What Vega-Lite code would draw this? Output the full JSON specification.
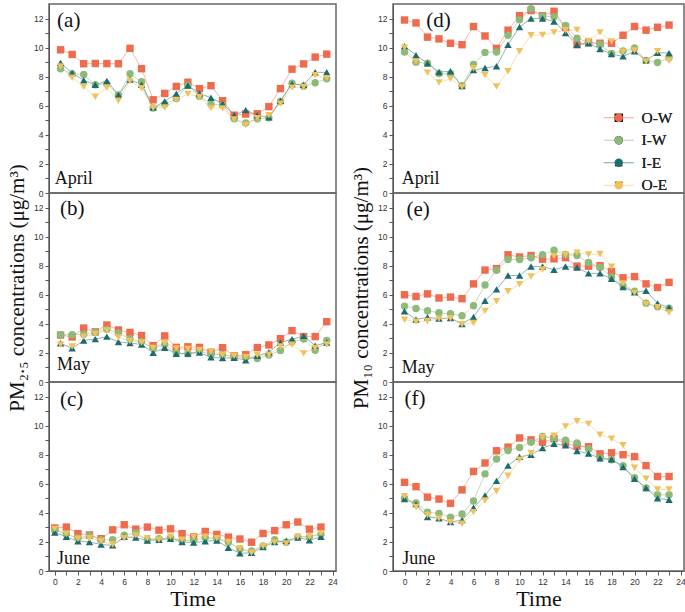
{
"$schema": "https://vega.github.io/schema/vega-lite/v6.json",
"padding": {"left": 5, "top": 3, "right": 2, "bottom": 2},
"config": {"view": {"stroke": "#666", "strokeWidth": 1.5}, "style": {"cell": {"stroke": "#666", "strokeWidth": 1.5}}, "font": "Liberation Serif, serif",
  "axis": {"grid": false, "labelFont": "Liberation Sans, sans-serif", "labelFontSize": 8.5, "labelColor": "#333", "labelPadding": 2, "domainColor": "#555", "tickColor": "#555", "tickSize": 4, "labelOverlap": false, "titleFont": "Liberation Serif, serif", "titleFontWeight": "normal", "titleColor": "#111"},
  "legend": {"title": null, "orient": "none", "legendX": 562, "legendY": 106, "padding": 0, "labelFont": "Liberation Serif, serif", "labelFontSize": 15.5, "labelFontWeight": "normal", "labelColor": "#222", "symbolSize": 70, "labelOffset": 15, "rowPadding": 5.5},
  "text": {"font": "Liberation Serif, serif", "color": "#111", "align": "left"}},
"datasets": {"pm": [
{"p":"a","s":"O-W","t":0,"v":9.85},{"p":"a","s":"O-W","t":1,"v":9.53},{"p":"a","s":"O-W","t":2,"v":8.89},{"p":"a","s":"O-W","t":3,"v":8.91},{"p":"a","s":"O-W","t":4,"v":8.9},{"p":"a","s":"O-W","t":5,"v":8.89},{"p":"a","s":"O-W","t":6,"v":9.95},{"p":"a","s":"O-W","t":7,"v":8.55},{"p":"a","s":"O-W","t":8,"v":6.41},{"p":"a","s":"O-W","t":9,"v":6.85},{"p":"a","s":"O-W","t":10,"v":7.33},{"p":"a","s":"O-W","t":11,"v":7.62},{"p":"a","s":"O-W","t":12,"v":7.18},{"p":"a","s":"O-W","t":13,"v":7.38},{"p":"a","s":"O-W","t":14,"v":6.35},{"p":"a","s":"O-W","t":15,"v":5.35},{"p":"a","s":"O-W","t":16,"v":5.43},{"p":"a","s":"O-W","t":17,"v":5.45},{"p":"a","s":"O-W","t":18,"v":5.94},{"p":"a","s":"O-W","t":19,"v":7.18},{"p":"a","s":"O-W","t":20,"v":8.52},{"p":"a","s":"O-W","t":21,"v":8.88},{"p":"a","s":"O-W","t":22,"v":9.35},{"p":"a","s":"O-W","t":23,"v":9.55},
{"p":"a","s":"I-W","t":0,"v":8.55},{"p":"a","s":"I-W","t":1,"v":8.2},{"p":"a","s":"I-W","t":2,"v":8.15},{"p":"a","s":"I-W","t":3,"v":7.45},{"p":"a","s":"I-W","t":4,"v":7.5},{"p":"a","s":"I-W","t":5,"v":6.75},{"p":"a","s":"I-W","t":6,"v":8.2},{"p":"a","s":"I-W","t":7,"v":7.65},{"p":"a","s":"I-W","t":8,"v":5.85},{"p":"a","s":"I-W","t":9,"v":6.1},{"p":"a","s":"I-W","t":10,"v":6.5},{"p":"a","s":"I-W","t":11,"v":7.4},{"p":"a","s":"I-W","t":12,"v":6.65},{"p":"a","s":"I-W","t":13,"v":6.1},{"p":"a","s":"I-W","t":14,"v":6.05},{"p":"a","s":"I-W","t":15,"v":5.1},{"p":"a","s":"I-W","t":16,"v":4.82},{"p":"a","s":"I-W","t":17,"v":5.1},{"p":"a","s":"I-W","t":18,"v":5.17},{"p":"a","s":"I-W","t":19,"v":6.3},{"p":"a","s":"I-W","t":20,"v":7.55},{"p":"a","s":"I-W","t":21,"v":7.35},{"p":"a","s":"I-W","t":22,"v":7.58},{"p":"a","s":"I-W","t":23,"v":7.85},
{"p":"a","s":"I-E","t":0,"v":8.95},{"p":"a","s":"I-E","t":1,"v":8.25},{"p":"a","s":"I-E","t":2,"v":7.75},{"p":"a","s":"I-E","t":3,"v":7.45},{"p":"a","s":"I-E","t":4,"v":7.7},{"p":"a","s":"I-E","t":5,"v":6.75},{"p":"a","s":"I-E","t":6,"v":7.8},{"p":"a","s":"I-E","t":7,"v":7.45},{"p":"a","s":"I-E","t":8,"v":5.87},{"p":"a","s":"I-E","t":9,"v":6.3},{"p":"a","s":"I-E","t":10,"v":6.83},{"p":"a","s":"I-E","t":11,"v":7.4},{"p":"a","s":"I-E","t":12,"v":6.85},{"p":"a","s":"I-E","t":13,"v":6.55},{"p":"a","s":"I-E","t":14,"v":6.15},{"p":"a","s":"I-E","t":15,"v":5.35},{"p":"a","s":"I-E","t":16,"v":5.7},{"p":"a","s":"I-E","t":17,"v":5.35},{"p":"a","s":"I-E","t":18,"v":5.2},{"p":"a","s":"I-E","t":19,"v":6.35},{"p":"a","s":"I-E","t":20,"v":7.5},{"p":"a","s":"I-E","t":21,"v":7.45},{"p":"a","s":"I-E","t":22,"v":8.3},{"p":"a","s":"I-E","t":23,"v":8.3},
{"p":"a","s":"O-E","t":0,"v":8.7},{"p":"a","s":"O-E","t":1,"v":7.93},{"p":"a","s":"O-E","t":2,"v":7.3},{"p":"a","s":"O-E","t":3,"v":6.62},{"p":"a","s":"O-E","t":4,"v":7.25},{"p":"a","s":"O-E","t":5,"v":6.35},{"p":"a","s":"O-E","t":6,"v":7.7},{"p":"a","s":"O-E","t":7,"v":7.2},{"p":"a","s":"O-E","t":8,"v":5.85},{"p":"a","s":"O-E","t":9,"v":5.87},{"p":"a","s":"O-E","t":10,"v":6.4},{"p":"a","s":"O-E","t":11,"v":6.82},{"p":"a","s":"O-E","t":12,"v":6.6},{"p":"a","s":"O-E","t":13,"v":5.85},{"p":"a","s":"O-E","t":14,"v":5.82},{"p":"a","s":"O-E","t":15,"v":5.05},{"p":"a","s":"O-E","t":16,"v":4.68},{"p":"a","s":"O-E","t":17,"v":5.15},{"p":"a","s":"O-E","t":18,"v":5.35},{"p":"a","s":"O-E","t":19,"v":6.15},{"p":"a","s":"O-E","t":20,"v":7.25},{"p":"a","s":"O-E","t":21,"v":7.3},{"p":"a","s":"O-E","t":22,"v":8.1},{"p":"a","s":"O-E","t":23,"v":7.9},
{"p":"b","s":"O-W","t":0,"v":3.23},{"p":"b","s":"O-W","t":1,"v":3.1},{"p":"b","s":"O-W","t":2,"v":3.71},{"p":"b","s":"O-W","t":3,"v":3.45},{"p":"b","s":"O-W","t":4,"v":3.92},{"p":"b","s":"O-W","t":5,"v":3.58},{"p":"b","s":"O-W","t":6,"v":3.41},{"p":"b","s":"O-W","t":7,"v":3.2},{"p":"b","s":"O-W","t":8,"v":2.5},{"p":"b","s":"O-W","t":9,"v":3.17},{"p":"b","s":"O-W","t":10,"v":2.38},{"p":"b","s":"O-W","t":11,"v":2.42},{"p":"b","s":"O-W","t":12,"v":2.38},{"p":"b","s":"O-W","t":13,"v":2.05},{"p":"b","s":"O-W","t":14,"v":2.36},{"p":"b","s":"O-W","t":15,"v":1.8},{"p":"b","s":"O-W","t":16,"v":1.88},{"p":"b","s":"O-W","t":17,"v":2.37},{"p":"b","s":"O-W","t":18,"v":2.55},{"p":"b","s":"O-W","t":19,"v":2.98},{"p":"b","s":"O-W","t":20,"v":3.53},{"p":"b","s":"O-W","t":21,"v":3.12},{"p":"b","s":"O-W","t":22,"v":3.12},{"p":"b","s":"O-W","t":23,"v":4.15},
{"p":"b","s":"I-W","t":0,"v":3.25},{"p":"b","s":"I-W","t":1,"v":3.25},{"p":"b","s":"I-W","t":2,"v":3.28},{"p":"b","s":"I-W","t":3,"v":3.42},{"p":"b","s":"I-W","t":4,"v":3.62},{"p":"b","s":"I-W","t":5,"v":3.38},{"p":"b","s":"I-W","t":6,"v":2.97},{"p":"b","s":"I-W","t":7,"v":2.78},{"p":"b","s":"I-W","t":8,"v":2.33},{"p":"b","s":"I-W","t":9,"v":2.58},{"p":"b","s":"I-W","t":10,"v":2.02},{"p":"b","s":"I-W","t":11,"v":1.94},{"p":"b","s":"I-W","t":12,"v":2.12},{"p":"b","s":"I-W","t":13,"v":1.9},{"p":"b","s":"I-W","t":14,"v":1.88},{"p":"b","s":"I-W","t":15,"v":1.75},{"p":"b","s":"I-W","t":16,"v":1.7},{"p":"b","s":"I-W","t":17,"v":1.62},{"p":"b","s":"I-W","t":18,"v":1.85},{"p":"b","s":"I-W","t":19,"v":2.17},{"p":"b","s":"I-W","t":20,"v":2.76},{"p":"b","s":"I-W","t":21,"v":2.96},{"p":"b","s":"I-W","t":22,"v":2.18},{"p":"b","s":"I-W","t":23,"v":2.85},
{"p":"b","s":"I-E","t":0,"v":2.66},{"p":"b","s":"I-E","t":1,"v":2.32},{"p":"b","s":"I-E","t":2,"v":2.85},{"p":"b","s":"I-E","t":3,"v":2.96},{"p":"b","s":"I-E","t":4,"v":3.12},{"p":"b","s":"I-E","t":5,"v":2.75},{"p":"b","s":"I-E","t":6,"v":2.68},{"p":"b","s":"I-E","t":7,"v":2.58},{"p":"b","s":"I-E","t":8,"v":2.01},{"p":"b","s":"I-E","t":9,"v":2.36},{"p":"b","s":"I-E","t":10,"v":1.94},{"p":"b","s":"I-E","t":11,"v":1.95},{"p":"b","s":"I-E","t":12,"v":2.03},{"p":"b","s":"I-E","t":13,"v":1.7},{"p":"b","s":"I-E","t":14,"v":1.64},{"p":"b","s":"I-E","t":15,"v":1.67},{"p":"b","s":"I-E","t":16,"v":1.5},{"p":"b","s":"I-E","t":17,"v":1.8},{"p":"b","s":"I-E","t":18,"v":2.05},{"p":"b","s":"I-E","t":19,"v":2.72},{"p":"b","s":"I-E","t":20,"v":2.94},{"p":"b","s":"I-E","t":21,"v":3.17},{"p":"b","s":"I-E","t":22,"v":2.5},{"p":"b","s":"I-E","t":23,"v":2.72},
{"p":"b","s":"O-E","t":0,"v":2.56},{"p":"b","s":"O-E","t":1,"v":2.45},{"p":"b","s":"O-E","t":2,"v":3.12},{"p":"b","s":"O-E","t":3,"v":3.3},{"p":"b","s":"O-E","t":4,"v":3.54},{"p":"b","s":"O-E","t":5,"v":3.07},{"p":"b","s":"O-E","t":6,"v":2.82},{"p":"b","s":"O-E","t":7,"v":2.72},{"p":"b","s":"O-E","t":8,"v":2.34},{"p":"b","s":"O-E","t":9,"v":2.66},{"p":"b","s":"O-E","t":10,"v":2.3},{"p":"b","s":"O-E","t":11,"v":2.27},{"p":"b","s":"O-E","t":12,"v":2.2},{"p":"b","s":"O-E","t":13,"v":2.1},{"p":"b","s":"O-E","t":14,"v":1.86},{"p":"b","s":"O-E","t":15,"v":1.81},{"p":"b","s":"O-E","t":16,"v":1.7},{"p":"b","s":"O-E","t":17,"v":1.86},{"p":"b","s":"O-E","t":18,"v":1.87},{"p":"b","s":"O-E","t":19,"v":2.45},{"p":"b","s":"O-E","t":20,"v":2.56},{"p":"b","s":"O-E","t":21,"v":1.97},{"p":"b","s":"O-E","t":22,"v":2.34},{"p":"b","s":"O-E","t":23,"v":2.58},
{"p":"c","s":"O-W","t":0,"v":2.96},{"p":"c","s":"O-W","t":1,"v":3.02},{"p":"c","s":"O-W","t":2,"v":2.57},{"p":"c","s":"O-W","t":3,"v":2.48},{"p":"c","s":"O-W","t":4,"v":2.22},{"p":"c","s":"O-W","t":5,"v":2.83},{"p":"c","s":"O-W","t":6,"v":3.18},{"p":"c","s":"O-W","t":7,"v":2.88},{"p":"c","s":"O-W","t":8,"v":3.02},{"p":"c","s":"O-W","t":9,"v":2.81},{"p":"c","s":"O-W","t":10,"v":2.9},{"p":"c","s":"O-W","t":11,"v":2.57},{"p":"c","s":"O-W","t":12,"v":2.35},{"p":"c","s":"O-W","t":13,"v":2.72},{"p":"c","s":"O-W","t":14,"v":2.52},{"p":"c","s":"O-W","t":15,"v":2.33},{"p":"c","s":"O-W","t":16,"v":2.2},{"p":"c","s":"O-W","t":17,"v":1.98},{"p":"c","s":"O-W","t":18,"v":2.58},{"p":"c","s":"O-W","t":19,"v":2.78},{"p":"c","s":"O-W","t":20,"v":3.18},{"p":"c","s":"O-W","t":21,"v":3.37},{"p":"c","s":"O-W","t":22,"v":2.88},{"p":"c","s":"O-W","t":23,"v":3.02},
{"p":"c","s":"I-W","t":0,"v":2.8},{"p":"c","s":"I-W","t":1,"v":2.55},{"p":"c","s":"I-W","t":2,"v":2.25},{"p":"c","s":"I-W","t":3,"v":2.42},{"p":"c","s":"I-W","t":4,"v":2.15},{"p":"c","s":"I-W","t":5,"v":2.15},{"p":"c","s":"I-W","t":6,"v":2.47},{"p":"c","s":"I-W","t":7,"v":2.62},{"p":"c","s":"I-W","t":8,"v":2.15},{"p":"c","s":"I-W","t":9,"v":2.22},{"p":"c","s":"I-W","t":10,"v":2.28},{"p":"c","s":"I-W","t":11,"v":2.08},{"p":"c","s":"I-W","t":12,"v":2.12},{"p":"c","s":"I-W","t":13,"v":2.28},{"p":"c","s":"I-W","t":14,"v":2.22},{"p":"c","s":"I-W","t":15,"v":1.97},{"p":"c","s":"I-W","t":16,"v":1.52},{"p":"c","s":"I-W","t":17,"v":1.38},{"p":"c","s":"I-W","t":18,"v":1.72},{"p":"c","s":"I-W","t":19,"v":2.15},{"p":"c","s":"I-W","t":20,"v":1.98},{"p":"c","s":"I-W","t":21,"v":2.35},{"p":"c","s":"I-W","t":22,"v":2.35},{"p":"c","s":"I-W","t":23,"v":2.52},
{"p":"c","s":"I-E","t":0,"v":2.65},{"p":"c","s":"I-E","t":1,"v":2.35},{"p":"c","s":"I-E","t":2,"v":2.05},{"p":"c","s":"I-E","t":3,"v":2.0},{"p":"c","s":"I-E","t":4,"v":1.82},{"p":"c","s":"I-E","t":5,"v":1.76},{"p":"c","s":"I-E","t":6,"v":2.35},{"p":"c","s":"I-E","t":7,"v":2.3},{"p":"c","s":"I-E","t":8,"v":2.1},{"p":"c","s":"I-E","t":9,"v":2.15},{"p":"c","s":"I-E","t":10,"v":2.22},{"p":"c","s":"I-E","t":11,"v":2.0},{"p":"c","s":"I-E","t":12,"v":1.95},{"p":"c","s":"I-E","t":13,"v":2.05},{"p":"c","s":"I-E","t":14,"v":2.1},{"p":"c","s":"I-E","t":15,"v":1.6},{"p":"c","s":"I-E","t":16,"v":1.22},{"p":"c","s":"I-E","t":17,"v":1.25},{"p":"c","s":"I-E","t":18,"v":1.65},{"p":"c","s":"I-E","t":19,"v":2.0},{"p":"c","s":"I-E","t":20,"v":2.07},{"p":"c","s":"I-E","t":21,"v":2.3},{"p":"c","s":"I-E","t":22,"v":2.12},{"p":"c","s":"I-E","t":23,"v":2.35},
{"p":"c","s":"O-E","t":0,"v":2.9},{"p":"c","s":"O-E","t":1,"v":2.55},{"p":"c","s":"O-E","t":2,"v":2.22},{"p":"c","s":"O-E","t":3,"v":2.25},{"p":"c","s":"O-E","t":4,"v":2.05},{"p":"c","s":"O-E","t":5,"v":1.82},{"p":"c","s":"O-E","t":6,"v":2.25},{"p":"c","s":"O-E","t":7,"v":2.45},{"p":"c","s":"O-E","t":8,"v":2.25},{"p":"c","s":"O-E","t":9,"v":2.15},{"p":"c","s":"O-E","t":10,"v":2.35},{"p":"c","s":"O-E","t":11,"v":2.15},{"p":"c","s":"O-E","t":12,"v":2.35},{"p":"c","s":"O-E","t":13,"v":2.35},{"p":"c","s":"O-E","t":14,"v":2.25},{"p":"c","s":"O-E","t":15,"v":2.0},{"p":"c","s":"O-E","t":16,"v":1.55},{"p":"c","s":"O-E","t":17,"v":1.25},{"p":"c","s":"O-E","t":18,"v":1.7},{"p":"c","s":"O-E","t":19,"v":1.97},{"p":"c","s":"O-E","t":20,"v":1.9},{"p":"c","s":"O-E","t":21,"v":2.35},{"p":"c","s":"O-E","t":22,"v":2.35},{"p":"c","s":"O-E","t":23,"v":2.6},
{"p":"d","s":"O-W","t":0,"v":11.9},{"p":"d","s":"O-W","t":1,"v":11.7},{"p":"d","s":"O-W","t":2,"v":10.72},{"p":"d","s":"O-W","t":3,"v":10.6},{"p":"d","s":"O-W","t":4,"v":10.3},{"p":"d","s":"O-W","t":5,"v":10.2},{"p":"d","s":"O-W","t":6,"v":11.45},{"p":"d","s":"O-W","t":7,"v":10.8},{"p":"d","s":"O-W","t":8,"v":9.95},{"p":"d","s":"O-W","t":9,"v":11.2},{"p":"d","s":"O-W","t":10,"v":12.2},{"p":"d","s":"O-W","t":11,"v":12.55},{"p":"d","s":"O-W","t":12,"v":12.2},{"p":"d","s":"O-W","t":13,"v":12.5},{"p":"d","s":"O-W","t":14,"v":11.4},{"p":"d","s":"O-W","t":15,"v":10.2},{"p":"d","s":"O-W","t":16,"v":10.35},{"p":"d","s":"O-W","t":17,"v":10.3},{"p":"d","s":"O-W","t":18,"v":10.3},{"p":"d","s":"O-W","t":19,"v":10.85},{"p":"d","s":"O-W","t":20,"v":11.45},{"p":"d","s":"O-W","t":21,"v":11.2},{"p":"d","s":"O-W","t":22,"v":11.4},{"p":"d","s":"O-W","t":23,"v":11.55},
{"p":"d","s":"I-W","t":0,"v":9.7},{"p":"d","s":"I-W","t":1,"v":9.0},{"p":"d","s":"I-W","t":2,"v":8.92},{"p":"d","s":"I-W","t":3,"v":8.22},{"p":"d","s":"I-W","t":4,"v":8.2},{"p":"d","s":"I-W","t":5,"v":7.38},{"p":"d","s":"I-W","t":6,"v":8.85},{"p":"d","s":"I-W","t":7,"v":9.67},{"p":"d","s":"I-W","t":8,"v":9.7},{"p":"d","s":"I-W","t":9,"v":10.85},{"p":"d","s":"I-W","t":10,"v":11.92},{"p":"d","s":"I-W","t":11,"v":12.67},{"p":"d","s":"I-W","t":12,"v":12.18},{"p":"d","s":"I-W","t":13,"v":12.12},{"p":"d","s":"I-W","t":14,"v":11.52},{"p":"d","s":"I-W","t":15,"v":10.65},{"p":"d","s":"I-W","t":16,"v":10.35},{"p":"d","s":"I-W","t":17,"v":10.22},{"p":"d","s":"I-W","t":18,"v":9.6},{"p":"d","s":"I-W","t":19,"v":9.77},{"p":"d","s":"I-W","t":20,"v":9.98},{"p":"d","s":"I-W","t":21,"v":9.12},{"p":"d","s":"I-W","t":22,"v":8.98},{"p":"d","s":"I-W","t":23,"v":9.3},
{"p":"d","s":"I-E","t":0,"v":10.1},{"p":"d","s":"I-E","t":1,"v":9.48},{"p":"d","s":"I-E","t":2,"v":8.92},{"p":"d","s":"I-E","t":3,"v":8.32},{"p":"d","s":"I-E","t":4,"v":8.37},{"p":"d","s":"I-E","t":5,"v":7.35},{"p":"d","s":"I-E","t":6,"v":8.45},{"p":"d","s":"I-E","t":7,"v":8.6},{"p":"d","s":"I-E","t":8,"v":8.72},{"p":"d","s":"I-E","t":9,"v":10.2},{"p":"d","s":"I-E","t":10,"v":11.42},{"p":"d","s":"I-E","t":11,"v":12.0},{"p":"d","s":"I-E","t":12,"v":12.0},{"p":"d","s":"I-E","t":13,"v":11.8},{"p":"d","s":"I-E","t":14,"v":11.0},{"p":"d","s":"I-E","t":15,"v":10.2},{"p":"d","s":"I-E","t":16,"v":10.3},{"p":"d","s":"I-E","t":17,"v":9.9},{"p":"d","s":"I-E","t":18,"v":9.55},{"p":"d","s":"I-E","t":19,"v":9.4},{"p":"d","s":"I-E","t":20,"v":9.75},{"p":"d","s":"I-E","t":21,"v":9.12},{"p":"d","s":"I-E","t":22,"v":9.65},{"p":"d","s":"I-E","t":23,"v":9.62},
{"p":"d","s":"O-E","t":0,"v":10.0},{"p":"d","s":"O-E","t":1,"v":9.05},{"p":"d","s":"O-E","t":2,"v":8.27},{"p":"d","s":"O-E","t":3,"v":7.6},{"p":"d","s":"O-E","t":4,"v":7.85},{"p":"d","s":"O-E","t":5,"v":7.3},{"p":"d","s":"O-E","t":6,"v":8.58},{"p":"d","s":"O-E","t":7,"v":8.12},{"p":"d","s":"O-E","t":8,"v":7.32},{"p":"d","s":"O-E","t":9,"v":8.38},{"p":"d","s":"O-E","t":10,"v":9.75},{"p":"d","s":"O-E","t":11,"v":10.85},{"p":"d","s":"O-E","t":12,"v":10.87},{"p":"d","s":"O-E","t":13,"v":11.05},{"p":"d","s":"O-E","t":14,"v":11.2},{"p":"d","s":"O-E","t":15,"v":11.22},{"p":"d","s":"O-E","t":16,"v":10.45},{"p":"d","s":"O-E","t":17,"v":11.05},{"p":"d","s":"O-E","t":18,"v":10.42},{"p":"d","s":"O-E","t":19,"v":9.72},{"p":"d","s":"O-E","t":20,"v":9.8},{"p":"d","s":"O-E","t":21,"v":9.05},{"p":"d","s":"O-E","t":22,"v":9.75},{"p":"d","s":"O-E","t":23,"v":9.1},
{"p":"e","s":"O-W","t":0,"v":6.0},{"p":"e","s":"O-W","t":1,"v":5.88},{"p":"e","s":"O-W","t":2,"v":6.06},{"p":"e","s":"O-W","t":3,"v":5.78},{"p":"e","s":"O-W","t":4,"v":5.84},{"p":"e","s":"O-W","t":5,"v":5.73},{"p":"e","s":"O-W","t":6,"v":6.75},{"p":"e","s":"O-W","t":7,"v":7.7},{"p":"e","s":"O-W","t":8,"v":7.8},{"p":"e","s":"O-W","t":9,"v":8.75},{"p":"e","s":"O-W","t":10,"v":8.6},{"p":"e","s":"O-W","t":11,"v":8.7},{"p":"e","s":"O-W","t":12,"v":8.45},{"p":"e","s":"O-W","t":13,"v":8.47},{"p":"e","s":"O-W","t":14,"v":8.55},{"p":"e","s":"O-W","t":15,"v":7.97},{"p":"e","s":"O-W","t":16,"v":7.97},{"p":"e","s":"O-W","t":17,"v":8.0},{"p":"e","s":"O-W","t":18,"v":7.6},{"p":"e","s":"O-W","t":19,"v":7.17},{"p":"e","s":"O-W","t":20,"v":7.25},{"p":"e","s":"O-W","t":21,"v":6.75},{"p":"e","s":"O-W","t":22,"v":6.5},{"p":"e","s":"O-W","t":23,"v":6.85},
{"p":"e","s":"I-W","t":0,"v":5.22},{"p":"e","s":"I-W","t":1,"v":5.06},{"p":"e","s":"I-W","t":2,"v":4.9},{"p":"e","s":"I-W","t":3,"v":4.76},{"p":"e","s":"I-W","t":4,"v":4.69},{"p":"e","s":"I-W","t":5,"v":4.56},{"p":"e","s":"I-W","t":6,"v":5.25},{"p":"e","s":"I-W","t":7,"v":6.67},{"p":"e","s":"I-W","t":8,"v":7.69},{"p":"e","s":"I-W","t":9,"v":8.43},{"p":"e","s":"I-W","t":10,"v":8.43},{"p":"e","s":"I-W","t":11,"v":8.55},{"p":"e","s":"I-W","t":12,"v":8.75},{"p":"e","s":"I-W","t":13,"v":9.06},{"p":"e","s":"I-W","t":14,"v":8.77},{"p":"e","s":"I-W","t":15,"v":8.7},{"p":"e","s":"I-W","t":16,"v":8.22},{"p":"e","s":"I-W","t":17,"v":7.88},{"p":"e","s":"I-W","t":18,"v":7.22},{"p":"e","s":"I-W","t":19,"v":6.62},{"p":"e","s":"I-W","t":20,"v":6.25},{"p":"e","s":"I-W","t":21,"v":5.42},{"p":"e","s":"I-W","t":22,"v":5.18},{"p":"e","s":"I-W","t":23,"v":5.07},
{"p":"e","s":"I-E","t":0,"v":4.87},{"p":"e","s":"I-E","t":1,"v":4.3},{"p":"e","s":"I-E","t":2,"v":4.45},{"p":"e","s":"I-E","t":3,"v":4.36},{"p":"e","s":"I-E","t":4,"v":4.4},{"p":"e","s":"I-E","t":5,"v":3.98},{"p":"e","s":"I-E","t":6,"v":4.47},{"p":"e","s":"I-E","t":7,"v":5.59},{"p":"e","s":"I-E","t":8,"v":6.37},{"p":"e","s":"I-E","t":9,"v":7.32},{"p":"e","s":"I-E","t":10,"v":7.33},{"p":"e","s":"I-E","t":11,"v":7.95},{"p":"e","s":"I-E","t":12,"v":7.95},{"p":"e","s":"I-E","t":13,"v":7.72},{"p":"e","s":"I-E","t":14,"v":7.95},{"p":"e","s":"I-E","t":15,"v":7.88},{"p":"e","s":"I-E","t":16,"v":7.47},{"p":"e","s":"I-E","t":17,"v":7.47},{"p":"e","s":"I-E","t":18,"v":7.1},{"p":"e","s":"I-E","t":19,"v":6.54},{"p":"e","s":"I-E","t":20,"v":6.17},{"p":"e","s":"I-E","t":21,"v":6.28},{"p":"e","s":"I-E","t":22,"v":5.41},{"p":"e","s":"I-E","t":23,"v":5.11},
{"p":"e","s":"O-E","t":0,"v":4.28},{"p":"e","s":"O-E","t":1,"v":4.15},{"p":"e","s":"O-E","t":2,"v":4.2},{"p":"e","s":"O-E","t":3,"v":4.35},{"p":"e","s":"O-E","t":4,"v":4.38},{"p":"e","s":"O-E","t":5,"v":3.97},{"p":"e","s":"O-E","t":6,"v":4.06},{"p":"e","s":"O-E","t":7,"v":4.89},{"p":"e","s":"O-E","t":8,"v":5.56},{"p":"e","s":"O-E","t":9,"v":6.24},{"p":"e","s":"O-E","t":10,"v":6.72},{"p":"e","s":"O-E","t":11,"v":7.26},{"p":"e","s":"O-E","t":12,"v":7.74},{"p":"e","s":"O-E","t":13,"v":8.65},{"p":"e","s":"O-E","t":14,"v":8.75},{"p":"e","s":"O-E","t":15,"v":8.9},{"p":"e","s":"O-E","t":16,"v":8.77},{"p":"e","s":"O-E","t":17,"v":8.8},{"p":"e","s":"O-E","t":18,"v":7.93},{"p":"e","s":"O-E","t":19,"v":6.78},{"p":"e","s":"O-E","t":20,"v":6.15},{"p":"e","s":"O-E","t":21,"v":5.35},{"p":"e","s":"O-E","t":22,"v":5.15},{"p":"e","s":"O-E","t":23,"v":4.78},
{"p":"f","s":"O-W","t":0,"v":6.1},{"p":"f","s":"O-W","t":1,"v":5.8},{"p":"f","s":"O-W","t":2,"v":5.08},{"p":"f","s":"O-W","t":3,"v":4.95},{"p":"f","s":"O-W","t":4,"v":4.65},{"p":"f","s":"O-W","t":5,"v":5.58},{"p":"f","s":"O-W","t":6,"v":6.85},{"p":"f","s":"O-W","t":7,"v":7.43},{"p":"f","s":"O-W","t":8,"v":8.27},{"p":"f","s":"O-W","t":9,"v":8.52},{"p":"f","s":"O-W","t":10,"v":9.15},{"p":"f","s":"O-W","t":11,"v":9.02},{"p":"f","s":"O-W","t":12,"v":8.86},{"p":"f","s":"O-W","t":13,"v":9.1},{"p":"f","s":"O-W","t":14,"v":8.8},{"p":"f","s":"O-W","t":15,"v":8.58},{"p":"f","s":"O-W","t":16,"v":8.55},{"p":"f","s":"O-W","t":17,"v":8.06},{"p":"f","s":"O-W","t":18,"v":8.13},{"p":"f","s":"O-W","t":19,"v":8.0},{"p":"f","s":"O-W","t":20,"v":7.87},{"p":"f","s":"O-W","t":21,"v":7.25},{"p":"f","s":"O-W","t":22,"v":6.5},{"p":"f","s":"O-W","t":23,"v":6.5},
{"p":"f","s":"I-W","t":0,"v":5.0},{"p":"f","s":"I-W","t":1,"v":4.68},{"p":"f","s":"I-W","t":2,"v":4.05},{"p":"f","s":"I-W","t":3,"v":3.96},{"p":"f","s":"I-W","t":4,"v":3.7},{"p":"f","s":"I-W","t":5,"v":3.92},{"p":"f","s":"I-W","t":6,"v":4.82},{"p":"f","s":"I-W","t":7,"v":6.68},{"p":"f","s":"I-W","t":8,"v":7.7},{"p":"f","s":"I-W","t":9,"v":8.28},{"p":"f","s":"I-W","t":10,"v":8.5},{"p":"f","s":"I-W","t":11,"v":8.85},{"p":"f","s":"I-W","t":12,"v":9.25},{"p":"f","s":"I-W","t":13,"v":9.12},{"p":"f","s":"I-W","t":14,"v":8.99},{"p":"f","s":"I-W","t":15,"v":8.8},{"p":"f","s":"I-W","t":16,"v":8.39},{"p":"f","s":"I-W","t":17,"v":7.78},{"p":"f","s":"I-W","t":18,"v":7.65},{"p":"f","s":"I-W","t":19,"v":7.25},{"p":"f","s":"I-W","t":20,"v":6.42},{"p":"f","s":"I-W","t":21,"v":5.72},{"p":"f","s":"I-W","t":22,"v":5.24},{"p":"f","s":"I-W","t":23,"v":5.24},
{"p":"f","s":"I-E","t":0,"v":4.95},{"p":"f","s":"I-E","t":1,"v":4.6},{"p":"f","s":"I-E","t":2,"v":3.72},{"p":"f","s":"I-E","t":3,"v":3.62},{"p":"f","s":"I-E","t":4,"v":3.37},{"p":"f","s":"I-E","t":5,"v":3.5},{"p":"f","s":"I-E","t":6,"v":4.35},{"p":"f","s":"I-E","t":7,"v":5.2},{"p":"f","s":"I-E","t":8,"v":6.2},{"p":"f","s":"I-E","t":9,"v":7.25},{"p":"f","s":"I-E","t":10,"v":7.85},{"p":"f","s":"I-E","t":11,"v":8.0},{"p":"f","s":"I-E","t":12,"v":8.45},{"p":"f","s":"I-E","t":13,"v":8.75},{"p":"f","s":"I-E","t":14,"v":8.65},{"p":"f","s":"I-E","t":15,"v":8.25},{"p":"f","s":"I-E","t":16,"v":8.08},{"p":"f","s":"I-E","t":17,"v":7.75},{"p":"f","s":"I-E","t":18,"v":7.68},{"p":"f","s":"I-E","t":19,"v":7.15},{"p":"f","s":"I-E","t":20,"v":6.35},{"p":"f","s":"I-E","t":21,"v":5.7},{"p":"f","s":"I-E","t":22,"v":5.0},{"p":"f","s":"I-E","t":23,"v":4.9},
{"p":"f","s":"O-E","t":0,"v":5.15},{"p":"f","s":"O-E","t":1,"v":4.4},{"p":"f","s":"O-E","t":2,"v":3.85},{"p":"f","s":"O-E","t":3,"v":3.62},{"p":"f","s":"O-E","t":4,"v":3.35},{"p":"f","s":"O-E","t":5,"v":3.25},{"p":"f","s":"O-E","t":6,"v":4.05},{"p":"f","s":"O-E","t":7,"v":4.85},{"p":"f","s":"O-E","t":8,"v":5.5},{"p":"f","s":"O-E","t":9,"v":6.55},{"p":"f","s":"O-E","t":10,"v":7.65},{"p":"f","s":"O-E","t":11,"v":8.12},{"p":"f","s":"O-E","t":12,"v":9.2},{"p":"f","s":"O-E","t":13,"v":9.3},{"p":"f","s":"O-E","t":14,"v":9.95},{"p":"f","s":"O-E","t":15,"v":10.3},{"p":"f","s":"O-E","t":16,"v":10.12},{"p":"f","s":"O-E","t":17,"v":9.37},{"p":"f","s":"O-E","t":18,"v":9.1},{"p":"f","s":"O-E","t":19,"v":8.65},{"p":"f","s":"O-E","t":20,"v":7.1},{"p":"f","s":"O-E","t":21,"v":6.35},{"p":"f","s":"O-E","t":22,"v":5.6},{"p":"f","s":"O-E","t":23,"v":5.6}
]},
"columns": 2,
"align": "each",
"bounds": "flush",
"spacing": {"row": 0, "column": 57},
"concat": [
{"width": 287, "height": 189, "view": {"stroke": "#666", "strokeWidth": 1.5}, "layer": [
  {"data": {"name": "pm"}, "transform": [{"filter": "datum.p == 'a'"}],
   "encoding": {
     "x": {"field": "t", "type": "quantitative", "scale": {"domain": [-1, 23.8], "nice": false, "zero": false}, "axis": null},
     "y": {"field": "v", "type": "quantitative", "scale": {"domain": [0, 13], "nice": false, "zero": false},
           "axis": {"values": [0,1,2,3,4,5,6,7,8,9,10,11,12], "labelExpr": "datum.value % 2 == 0 ? datum.label : ''", "encode": {"ticks": {"update": {"x2": {"signal": "datum.value % 2 == 0 ? -4 : -2"}}}}, "title": null}}},
   "layer": [
     {"mark": {"type": "line", "strokeWidth": 1, "strokeOpacity": 0.5}, "encoding": {"stroke": {"field": "s", "type": "nominal", "scale": {"domain": ["O-W","I-W","I-E","O-E"], "range": ["#EF6B4E","#8DB97B","#1E6B6E","#F0C25E"]}, "legend": {"labelColor": "transparent", "symbolType": "M-3.6,0H3.6", "symbolStrokeWidth": 1, "symbolOpacity": 0.6, "symbolFillColor": "transparent"}}}},
     {"mark": {"type": "point", "filled": true, "opacity": 1, "size": 55}, "encoding": {
        "fill": {"field": "s", "type": "nominal", "sort": ["O-W","I-W","I-E","O-E"], "scale": {"range": ["#EF6B4E","#8DB97B","#1E6B6E","#F0C25E"]}},
        "shape": {"field": "s", "type": "nominal", "sort": ["O-W","I-W","I-E","O-E"], "scale": {"range": ["square","circle","triangle-up","triangle-down"]}}}}
   ]},
  {"data": {"values": [{}]}, "mark": {"type": "text", "fontSize": 21, "baseline": "middle"}, "encoding": {"x": {"datum": -0.3, "type": "quantitative", "axis": null}, "y": {"datum": 11.85, "type": "quantitative", "axis": {"values": [0,1,2,3,4,5,6,7,8,9,10,11,12], "labelExpr": "datum.value % 2 == 0 ? datum.label : ''", "encode": {"ticks": {"update": {"x2": {"signal": "datum.value % 2 == 0 ? -4 : -2"}}}}, "title": null}}, "text": {"value": "(a)"}}},
  {"data": {"values": [{}]}, "mark": {"type": "text", "fontSize": 18, "baseline": "alphabetic"}, "encoding": {"x": {"datum": -0.5, "type": "quantitative", "axis": null}, "y": {"datum": 0.6, "type": "quantitative", "axis": {"values": [0,1,2,3,4,5,6,7,8,9,10,11,12], "labelExpr": "datum.value % 2 == 0 ? datum.label : ''", "encode": {"ticks": {"update": {"x2": {"signal": "datum.value % 2 == 0 ? -4 : -2"}}}}, "title": null}}, "text": {"value": "April"}}}
]},
{"width": 291, "height": 189, "view": {"stroke": "#666", "strokeWidth": 1.5}, "layer": [
  {"data": {"name": "pm"}, "transform": [{"filter": "datum.p == 'd'"}],
   "encoding": {
     "x": {"field": "t", "type": "quantitative", "scale": {"domain": [-1, 24.3], "nice": false, "zero": false}, "axis": null},
     "y": {"field": "v", "type": "quantitative", "scale": {"domain": [0, 13], "nice": false, "zero": false},
           "axis": {"values": [0,1,2,3,4,5,6,7,8,9,10,11,12], "labelExpr": "datum.value % 2 == 0 ? datum.label : ''", "encode": {"ticks": {"update": {"x2": {"signal": "datum.value % 2 == 0 ? -4 : -2"}}}}, "title": null}}},
   "layer": [
     {"mark": {"type": "line", "strokeWidth": 1, "strokeOpacity": 0.5}, "encoding": {"stroke": {"field": "s", "type": "nominal", "scale": {"domain": ["O-W","I-W","I-E","O-E"], "range": ["#EF6B4E","#8DB97B","#1E6B6E","#F0C25E"]}, "legend": {"labelColor": "transparent", "symbolType": "M-3.6,0H3.6", "symbolStrokeWidth": 1, "symbolOpacity": 0.6, "symbolFillColor": "transparent"}}}},
     {"mark": {"type": "point", "filled": true, "opacity": 1, "size": 55}, "encoding": {
        "fill": {"field": "s", "type": "nominal", "sort": ["O-W","I-W","I-E","O-E"], "scale": {"range": ["#EF6B4E","#8DB97B","#1E6B6E","#F0C25E"]}},
        "shape": {"field": "s", "type": "nominal", "sort": ["O-W","I-W","I-E","O-E"], "scale": {"range": ["square","circle","triangle-up","triangle-down"]}}}}
   ]},
  {"data": {"values": [{}]}, "mark": {"type": "text", "fontSize": 21, "baseline": "middle"}, "encoding": {"x": {"datum": 1.9, "type": "quantitative", "axis": null}, "y": {"datum": 11.85, "type": "quantitative", "axis": {"values": [0,1,2,3,4,5,6,7,8,9,10,11,12], "labelExpr": "datum.value % 2 == 0 ? datum.label : ''", "encode": {"ticks": {"update": {"x2": {"signal": "datum.value % 2 == 0 ? -4 : -2"}}}}, "title": null}}, "text": {"value": "(d)"}}},
  {"data": {"values": [{}]}, "mark": {"type": "text", "fontSize": 18, "baseline": "alphabetic"}, "encoding": {"x": {"datum": -0.25, "type": "quantitative", "axis": null}, "y": {"datum": 0.6, "type": "quantitative", "axis": {"values": [0,1,2,3,4,5,6,7,8,9,10,11,12], "labelExpr": "datum.value % 2 == 0 ? datum.label : ''", "encode": {"ticks": {"update": {"x2": {"signal": "datum.value % 2 == 0 ? -4 : -2"}}}}, "title": null}}, "text": {"value": "April"}}}
]},
{"width": 287, "height": 189, "view": {"stroke": "#666", "strokeWidth": 1.5}, "layer": [
  {"data": {"name": "pm"}, "transform": [{"filter": "datum.p == 'b'"}],
   "encoding": {
     "x": {"field": "t", "type": "quantitative", "scale": {"domain": [-1, 23.8], "nice": false, "zero": false}, "axis": null},
     "y": {"field": "v", "type": "quantitative", "scale": {"domain": [0, 13], "nice": false, "zero": false},
           "axis": {"values": [0,1,2,3,4,5,6,7,8,9,10,11,12], "labelExpr": "datum.value % 2 == 0 ? datum.label : ''", "encode": {"ticks": {"update": {"x2": {"signal": "datum.value % 2 == 0 ? -4 : -2"}}}}, "title": "PM₂.₅ concentrations (μg/m³)", "titleFontSize": 21, "titlePadding": 6}}},
   "layer": [
     {"mark": {"type": "line", "strokeWidth": 1, "strokeOpacity": 0.5}, "encoding": {"stroke": {"field": "s", "type": "nominal", "scale": {"domain": ["O-W","I-W","I-E","O-E"], "range": ["#EF6B4E","#8DB97B","#1E6B6E","#F0C25E"]}, "legend": {"labelColor": "transparent", "symbolType": "M-3.6,0H3.6", "symbolStrokeWidth": 1, "symbolOpacity": 0.6, "symbolFillColor": "transparent"}}}},
     {"mark": {"type": "point", "filled": true, "opacity": 1, "size": 55}, "encoding": {
        "fill": {"field": "s", "type": "nominal", "sort": ["O-W","I-W","I-E","O-E"], "scale": {"range": ["#EF6B4E","#8DB97B","#1E6B6E","#F0C25E"]}},
        "shape": {"field": "s", "type": "nominal", "sort": ["O-W","I-W","I-E","O-E"], "scale": {"range": ["square","circle","triangle-up","triangle-down"]}}}}
   ]},
  {"data": {"values": [{}]}, "mark": {"type": "text", "fontSize": 21, "baseline": "middle"}, "encoding": {"x": {"datum": -0.05, "type": "quantitative", "axis": null}, "y": {"datum": 11.9, "type": "quantitative", "axis": {"values": [0,1,2,3,4,5,6,7,8,9,10,11,12], "labelExpr": "datum.value % 2 == 0 ? datum.label : ''", "encode": {"ticks": {"update": {"x2": {"signal": "datum.value % 2 == 0 ? -4 : -2"}}}}, "title": "PM₂.₅ concentrations (μg/m³)", "titleFontSize": 21, "titlePadding": 6}}, "text": {"value": "(b)"}}},
  {"data": {"values": [{}]}, "mark": {"type": "text", "fontSize": 18, "baseline": "alphabetic"}, "encoding": {"x": {"datum": -0.3, "type": "quantitative", "axis": null}, "y": {"datum": 0.8, "type": "quantitative", "axis": {"values": [0,1,2,3,4,5,6,7,8,9,10,11,12], "labelExpr": "datum.value % 2 == 0 ? datum.label : ''", "encode": {"ticks": {"update": {"x2": {"signal": "datum.value % 2 == 0 ? -4 : -2"}}}}, "title": "PM₂.₅ concentrations (μg/m³)", "titleFontSize": 21, "titlePadding": 6}}, "text": {"value": "May"}}}
]},
{"width": 291, "height": 189, "view": {"stroke": "#666", "strokeWidth": 1.5}, "layer": [
  {"data": {"name": "pm"}, "transform": [{"filter": "datum.p == 'e'"}],
   "encoding": {
     "x": {"field": "t", "type": "quantitative", "scale": {"domain": [-1, 24.3], "nice": false, "zero": false}, "axis": null},
     "y": {"field": "v", "type": "quantitative", "scale": {"domain": [0, 13], "nice": false, "zero": false},
           "axis": {"values": [0,1,2,3,4,5,6,7,8,9,10,11,12], "labelExpr": "datum.value % 2 == 0 ? datum.label : ''", "encode": {"ticks": {"update": {"x2": {"signal": "datum.value % 2 == 0 ? -4 : -2"}}}}, "title": "PM₁₀ concentrations (μg/m³)", "titleFontSize": 21, "titlePadding": 6}}},
   "layer": [
     {"mark": {"type": "line", "strokeWidth": 1, "strokeOpacity": 0.5}, "encoding": {"stroke": {"field": "s", "type": "nominal", "scale": {"domain": ["O-W","I-W","I-E","O-E"], "range": ["#EF6B4E","#8DB97B","#1E6B6E","#F0C25E"]}, "legend": {"labelColor": "transparent", "symbolType": "M-3.6,0H3.6", "symbolStrokeWidth": 1, "symbolOpacity": 0.6, "symbolFillColor": "transparent"}}}},
     {"mark": {"type": "point", "filled": true, "opacity": 1, "size": 55}, "encoding": {
        "fill": {"field": "s", "type": "nominal", "sort": ["O-W","I-W","I-E","O-E"], "scale": {"range": ["#EF6B4E","#8DB97B","#1E6B6E","#F0C25E"]}},
        "shape": {"field": "s", "type": "nominal", "sort": ["O-W","I-W","I-E","O-E"], "scale": {"range": ["square","circle","triangle-up","triangle-down"]}}}}
   ]},
  {"data": {"values": [{}]}, "mark": {"type": "text", "fontSize": 21, "baseline": "middle"}, "encoding": {"x": {"datum": 0.17, "type": "quantitative", "axis": null}, "y": {"datum": 11.85, "type": "quantitative", "axis": {"values": [0,1,2,3,4,5,6,7,8,9,10,11,12], "labelExpr": "datum.value % 2 == 0 ? datum.label : ''", "encode": {"ticks": {"update": {"x2": {"signal": "datum.value % 2 == 0 ? -4 : -2"}}}}, "title": "PM₁₀ concentrations (μg/m³)", "titleFontSize": 21, "titlePadding": 6}}, "text": {"value": "(e)"}}},
  {"data": {"values": [{}]}, "mark": {"type": "text", "fontSize": 18, "baseline": "alphabetic"}, "encoding": {"x": {"datum": -0.25, "type": "quantitative", "axis": null}, "y": {"datum": 0.65, "type": "quantitative", "axis": {"values": [0,1,2,3,4,5,6,7,8,9,10,11,12], "labelExpr": "datum.value % 2 == 0 ? datum.label : ''", "encode": {"ticks": {"update": {"x2": {"signal": "datum.value % 2 == 0 ? -4 : -2"}}}}, "title": "PM₁₀ concentrations (μg/m³)", "titleFontSize": 21, "titlePadding": 6}}, "text": {"value": "May"}}}
]},
{"width": 287, "height": 189, "view": {"stroke": "#666", "strokeWidth": 1.5}, "layer": [
  {"data": {"name": "pm"}, "transform": [{"filter": "datum.p == 'c'"}],
   "encoding": {
     "x": {"field": "t", "type": "quantitative", "scale": {"domain": [-0.5, 24.3], "nice": false, "zero": false},
           "axis": {"values": [0,1,2,3,4,5,6,7,8,9,10,11,12,13,14,15,16,17,18,19,20,21,22,23,24], "labelExpr": "datum.value % 2 == 0 ? datum.label : ''", "encode": {"ticks": {"update": {"y2": {"signal": "datum.value % 2 == 0 ? 4 : 2"}}}}, "title": "Time", "titleFontSize": 22, "titlePadding": 3}},
     "y": {"field": "v", "type": "quantitative", "scale": {"domain": [0, 13], "nice": false, "zero": false},
           "axis": {"values": [0,1,2,3,4,5,6,7,8,9,10,11,12], "labelExpr": "datum.value % 2 == 0 ? datum.label : ''", "encode": {"ticks": {"update": {"x2": {"signal": "datum.value % 2 == 0 ? -4 : -2"}}}}, "title": null}}},
   "layer": [
     {"mark": {"type": "line", "strokeWidth": 1, "strokeOpacity": 0.5}, "encoding": {"stroke": {"field": "s", "type": "nominal", "scale": {"domain": ["O-W","I-W","I-E","O-E"], "range": ["#EF6B4E","#8DB97B","#1E6B6E","#F0C25E"]}, "legend": {"labelColor": "transparent", "symbolType": "M-3.6,0H3.6", "symbolStrokeWidth": 1, "symbolOpacity": 0.6, "symbolFillColor": "transparent"}}}},
     {"mark": {"type": "point", "filled": true, "opacity": 1, "size": 55}, "encoding": {
        "fill": {"field": "s", "type": "nominal", "sort": ["O-W","I-W","I-E","O-E"], "scale": {"range": ["#EF6B4E","#8DB97B","#1E6B6E","#F0C25E"]}},
        "shape": {"field": "s", "type": "nominal", "sort": ["O-W","I-W","I-E","O-E"], "scale": {"range": ["square","circle","triangle-up","triangle-down"]}}}}
   ]},
  {"data": {"values": [{}]}, "mark": {"type": "text", "fontSize": 21, "baseline": "middle"}, "encoding": {"x": {"datum": 0.45, "type": "quantitative", "axis": {"values": [0,1,2,3,4,5,6,7,8,9,10,11,12,13,14,15,16,17,18,19,20,21,22,23,24], "labelExpr": "datum.value % 2 == 0 ? datum.label : ''", "encode": {"ticks": {"update": {"y2": {"signal": "datum.value % 2 == 0 ? 4 : 2"}}}}, "title": "Time", "titleFontSize": 22, "titlePadding": 3}}, "y": {"datum": 11.75, "type": "quantitative", "axis": {"values": [0,1,2,3,4,5,6,7,8,9,10,11,12], "labelExpr": "datum.value % 2 == 0 ? datum.label : ''", "encode": {"ticks": {"update": {"x2": {"signal": "datum.value % 2 == 0 ? -4 : -2"}}}}, "title": null}}, "text": {"value": "(c)"}}},
  {"data": {"values": [{}]}, "mark": {"type": "text", "fontSize": 18, "baseline": "alphabetic"}, "encoding": {"x": {"datum": 0.2, "type": "quantitative", "axis": {"values": [0,1,2,3,4,5,6,7,8,9,10,11,12,13,14,15,16,17,18,19,20,21,22,23,24], "labelExpr": "datum.value % 2 == 0 ? datum.label : ''", "encode": {"ticks": {"update": {"y2": {"signal": "datum.value % 2 == 0 ? 4 : 2"}}}}, "title": "Time", "titleFontSize": 22, "titlePadding": 3}}, "y": {"datum": 0.5, "type": "quantitative", "axis": {"values": [0,1,2,3,4,5,6,7,8,9,10,11,12], "labelExpr": "datum.value % 2 == 0 ? datum.label : ''", "encode": {"ticks": {"update": {"x2": {"signal": "datum.value % 2 == 0 ? -4 : -2"}}}}, "title": null}}, "text": {"value": "June"}}}
]},
{"width": 291, "height": 189, "view": {"stroke": "#666", "strokeWidth": 1.5}, "layer": [
  {"data": {"name": "pm"}, "transform": [{"filter": "datum.p == 'f'"}],
   "encoding": {
     "x": {"field": "t", "type": "quantitative", "scale": {"domain": [-1, 24.3], "nice": false, "zero": false},
           "axis": {"values": [0,1,2,3,4,5,6,7,8,9,10,11,12,13,14,15,16,17,18,19,20,21,22,23,24], "labelExpr": "datum.value % 2 == 0 ? datum.label : ''", "encode": {"ticks": {"update": {"y2": {"signal": "datum.value % 2 == 0 ? 4 : 2"}}}}, "title": "Time", "titleFontSize": 22, "titlePadding": 3}},
     "y": {"field": "v", "type": "quantitative", "scale": {"domain": [0, 13], "nice": false, "zero": false},
           "axis": {"values": [0,1,2,3,4,5,6,7,8,9,10,11,12], "labelExpr": "datum.value % 2 == 0 ? datum.label : ''", "encode": {"ticks": {"update": {"x2": {"signal": "datum.value % 2 == 0 ? -4 : -2"}}}}, "title": null}}},
   "layer": [
     {"mark": {"type": "line", "strokeWidth": 1, "strokeOpacity": 0.5}, "encoding": {"stroke": {"field": "s", "type": "nominal", "scale": {"domain": ["O-W","I-W","I-E","O-E"], "range": ["#EF6B4E","#8DB97B","#1E6B6E","#F0C25E"]}, "legend": {"labelColor": "transparent", "symbolType": "M-3.6,0H3.6", "symbolStrokeWidth": 1, "symbolOpacity": 0.6, "symbolFillColor": "transparent"}}}},
     {"mark": {"type": "point", "filled": true, "opacity": 1, "size": 55}, "encoding": {
        "fill": {"field": "s", "type": "nominal", "sort": ["O-W","I-W","I-E","O-E"], "scale": {"range": ["#EF6B4E","#8DB97B","#1E6B6E","#F0C25E"]}},
        "shape": {"field": "s", "type": "nominal", "sort": ["O-W","I-W","I-E","O-E"], "scale": {"range": ["square","circle","triangle-up","triangle-down"]}}}}
   ]},
  {"data": {"values": [{}]}, "mark": {"type": "text", "fontSize": 21, "baseline": "middle"}, "encoding": {"x": {"datum": 0.0, "type": "quantitative", "axis": {"values": [0,1,2,3,4,5,6,7,8,9,10,11,12,13,14,15,16,17,18,19,20,21,22,23,24], "labelExpr": "datum.value % 2 == 0 ? datum.label : ''", "encode": {"ticks": {"update": {"y2": {"signal": "datum.value % 2 == 0 ? 4 : 2"}}}}, "title": "Time", "titleFontSize": 22, "titlePadding": 3}}, "y": {"datum": 11.85, "type": "quantitative", "axis": {"values": [0,1,2,3,4,5,6,7,8,9,10,11,12], "labelExpr": "datum.value % 2 == 0 ? datum.label : ''", "encode": {"ticks": {"update": {"x2": {"signal": "datum.value % 2 == 0 ? -4 : -2"}}}}, "title": null}}, "text": {"value": "(f)"}}},
  {"data": {"values": [{}]}, "mark": {"type": "text", "fontSize": 18, "baseline": "alphabetic"}, "encoding": {"x": {"datum": -0.2, "type": "quantitative", "axis": {"values": [0,1,2,3,4,5,6,7,8,9,10,11,12,13,14,15,16,17,18,19,20,21,22,23,24], "labelExpr": "datum.value % 2 == 0 ? datum.label : ''", "encode": {"ticks": {"update": {"y2": {"signal": "datum.value % 2 == 0 ? 4 : 2"}}}}, "title": "Time", "titleFontSize": 22, "titlePadding": 3}}, "y": {"datum": 0.5, "type": "quantitative", "axis": {"values": [0,1,2,3,4,5,6,7,8,9,10,11,12], "labelExpr": "datum.value % 2 == 0 ? datum.label : ''", "encode": {"ticks": {"update": {"x2": {"signal": "datum.value % 2 == 0 ? -4 : -2"}}}}, "title": null}}, "text": {"value": "June"}}}
]}
]
}
